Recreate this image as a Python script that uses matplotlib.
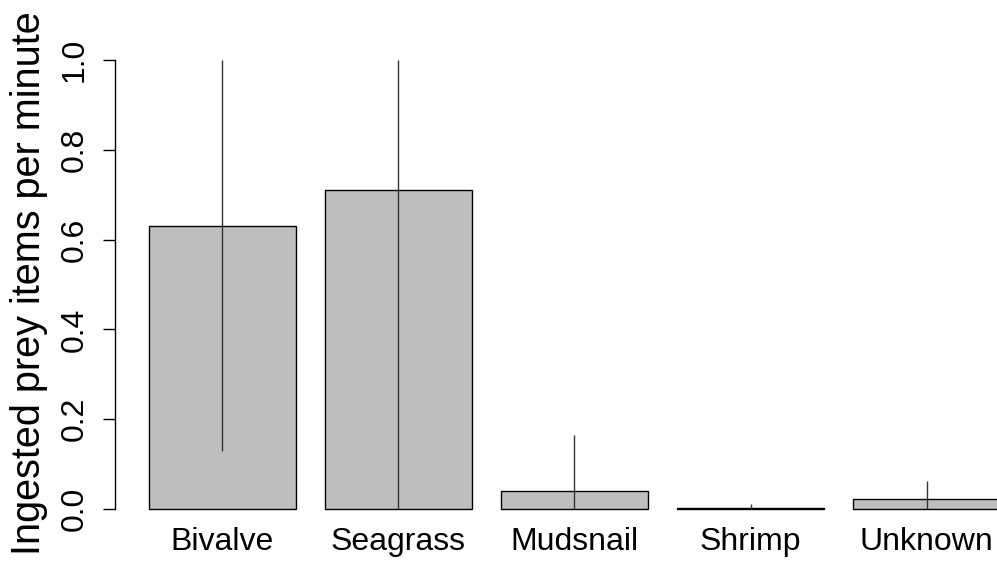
import matplotlib
matplotlib.use("Agg")
import matplotlib.pyplot as plt
import numpy as np

prey = ["Bivalve", "Seagrass", "Mudsnail", "Shrimp", "Unknown"]
mean_rate = [0.63, 0.71, 0.041, 0.002, 0.022]
sd_rate = [0.50, 0.75, 0.124, 0.0085, 0.041]

plt.rcParams["font.family"] = ["Liberation Sans", "DejaVu Sans"]

W, H = 997, 561
fig = plt.figure(figsize=(W / 100, H / 100), dpi=100)
# plot region in pixels (R-like barplot layout, right side cropped)
left_px, right_px, top_px, bot_px = 115, 997, 42, 527
ax = fig.add_axes([left_px / W, 1 - bot_px / H, (right_px - left_px) / W, (bot_px - top_px) / H])

# R barplot geometry: width 1, space 0.2
x = 0.2 + np.arange(len(prey)) * 1.2 + 0.5
ax.bar(x, mean_rate, width=1.0, color="#bebebe", edgecolor="black", linewidth=1.0, zorder=2)

means = np.array(mean_rate)
sds = np.array(sd_rate)
lower = np.clip(means - sds, 0, 1)
upper = np.clip(means + sds, 0, 1)
ax.vlines(x, lower, upper, color="#333333", linewidth=1.0, zorder=3)

px_per_unit = 146.7
ax.set_xlim(-0.032, -0.032 + (right_px - left_px) / px_per_unit)
ax.set_ylim(-0.04, 1.04)

for s in ["top", "right", "bottom"]:
    ax.spines[s].set_visible(False)
ax.spines["left"].set_bounds(0, 1)
ax.spines["left"].set_linewidth(1.0)
ax.set_yticks([0, 0.2, 0.4, 0.6, 0.8, 1.0])
ax.set_yticklabels(["0.0", "0.2", "0.4", "0.6", "0.8", "1.0"], rotation=90, va="center")
ax.tick_params(axis="y", length=8.5, width=1.0, labelsize=23, pad=10)
ax.set_xticks([])

# category labels below the bars, baseline ~41 px under the zero line
label_y = -41 / 449
for xi, name in zip(x, prey):
    ax.text(xi, label_y, name, ha="center", va="baseline", fontsize=23)

fig.text(40 / W, 1 - 283 / H, "Ingested prey items per minute", rotation=90,
         rotation_mode="anchor", ha="center", va="baseline", fontsize=28.5)

fig.savefig("out.png", dpi=100)
